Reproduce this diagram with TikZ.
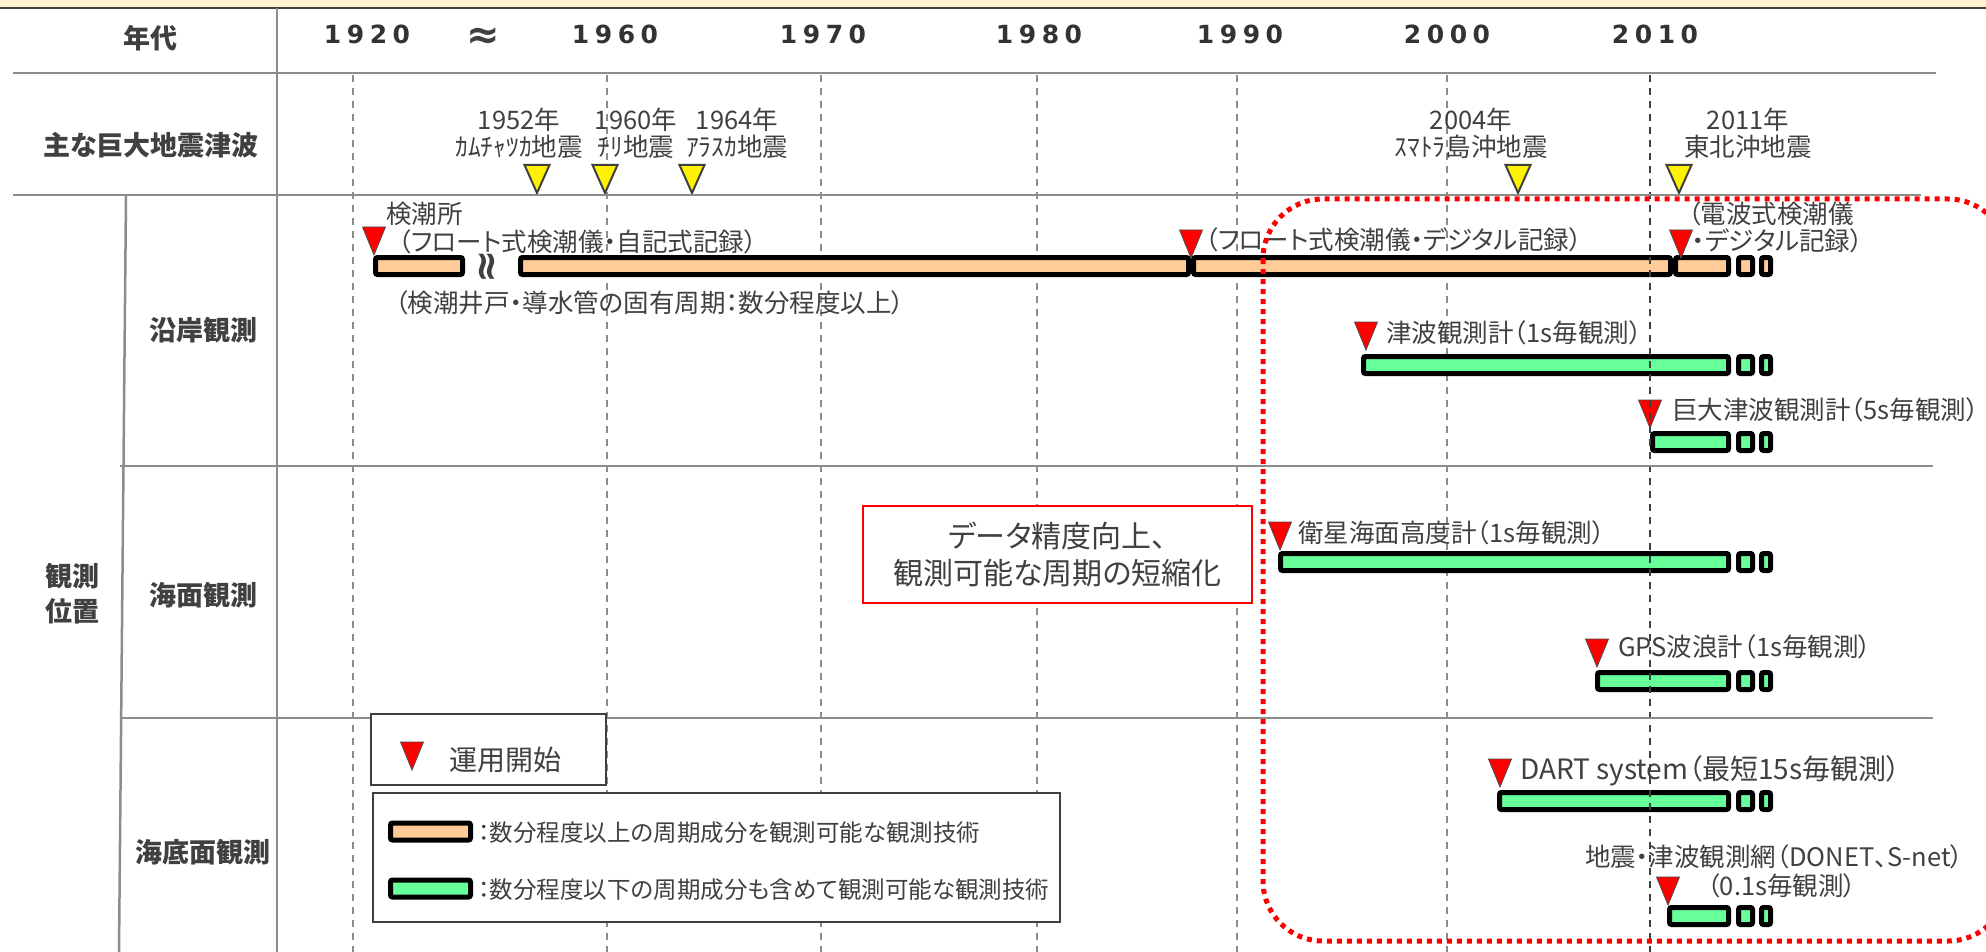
\documentclass[tikz,border=0pt]{standalone}
\usepackage{fontspec}
\setmainfont{Noto Sans CJK JP}[RawFeature=+palt]
\newfontfamily\yearfont{DejaVu Sans}[LetterSpace=22]
\newfontfamily\symfont{DejaVu Sans}

\definecolor{peach}{RGB}{255,204,153}
\definecolor{mint}{RGB}{102,255,153}
\definecolor{ink}{RGB}{64,64,64}
\definecolor{rule}{RGB}{140,140,140}
\definecolor{band}{RGB}{255,242,204}

\tikzset{
  rowline/.style={draw=rule, line width=2.5pt},
  yearline/.style={draw=rule, line width=1.5pt, dash pattern=on 7pt off 6pt},
  bar/.style={draw=black, line width=5pt, rounded corners=2pt},
  head/.style={font=\fontsize{27}{35}\selectfont\bfseries, text=ink},
  lbl/.style={font=\fontsize{25.5}{27}\selectfont, text=ink, inner sep=0pt},
  key/.style={font=\fontsize{23.5}{26}\selectfont, text=ink, inner sep=0pt, anchor=west},
  yr/.style={font=\yearfont\bfseries\fontsize{25}{27}\selectfont, text=black!80},
  startmark/.pic={\draw[fill=red, draw=black!70, line width=0.8pt] (-11.5,-28) -- (11.5,-28) -- (0,0) -- cycle;},
  quakemark/.pic={\draw[fill=yellow, draw=ink, line width=2pt] (-12.5,-28) -- (12.5,-28) -- (0,0) -- cycle;}
}

\begin{document}
\begin{tikzpicture}[x=1pt, y=-1pt]
\useasboundingbox (0,0) rectangle (1986,952);
\fill[band] (0,0) rectangle (1986,7);
\draw[ink, line width=2pt] (0,8) -- (1986,8);

\foreach \gx in {353,607,821,1037,1237,1447} \draw[yearline] (\gx,75) -- (\gx,952);

% bars, then the two small boxes at the end of each
\foreach \xa/\xb/\yc/\col in {373/465/266/peach, 518/1191/266/peach, 1191/1673/266/peach, 1673/1731/266/peach,
  1361/1731/365/mint, 1650/1731/442/mint, 1278/1731/562/mint, 1595/1731/681/mint, 1497/1731/801/mint, 1667/1731/916/mint}
  \draw[bar, fill=\col] (\xa+2.5,\yc-8.5) rectangle (\xb-2.5,\yc+8.5);
\foreach \yc/\col in {266/peach, 365/mint, 442/mint, 562/mint, 681/mint, 801/mint, 916/mint} {
  \draw[bar, fill=\col] (1738.5,\yc-8.5) rectangle (1752.5,\yc+8.5);
  \draw[bar, fill=\col] (1761.5,\yc-8.5) rectangle (1770.5,\yc+8.5);
}
\node[font=\symfont\bfseries\fontsize{40}{40}\selectfont, text=ink, rotate=90, inner sep=0pt] (brk) at (489,267) {≈};

\foreach \qx in {537,605,692,1518,1679} \pic at (\qx,193) {quakemark};
\foreach \sx/\sy in {374/255, 1191/258, 1681/258, 1366/350, 1650/428, 1280/550, 1597/667, 1500/787, 1668/905}
  \pic at (\sx,\sy) {startmark};

\node[lbl, align=center] (q1952) at (519,133.5) {1952年\\ｶﾑﾁｬﾂｶ地震};
\node[lbl, align=center] (q1960) at (636,133.5) {1960年\\ﾁﾘ地震};
\node[lbl, align=center] (q1964) at (737,133.5) {1964年\\ｱﾗｽｶ地震};
\node[lbl, align=center] (q2004) at (1471,133.5) {2004年\\ｽﾏﾄﾗ島沖地震};
\node[lbl, align=center] (q2011) at (1748,133.5) {2011年\\東北沖地震};

\node[lbl, anchor=west] (tide) at (386,214) {検潮所};
\node[lbl, anchor=west] (float1) at (398,242) {（フロート式検潮儀・自記式記録）};
\node[lbl, anchor=west] (well) at (395,303) {（検潮井戸・導水管の固有周期：数分程度以上）};
\node[lbl, anchor=west] (float2) at (1205,240) {（フロート式検潮儀・デジタル記録）};
\node[lbl, anchor=west] (radioA) at (1688,214) {（電波式検潮儀};
\node[lbl, anchor=west] (radioB) at (1692,241) {・デジタル記録）};
\node[lbl, anchor=west] (tsu) at (1386,333) {津波観測計（1s毎観測）};
\node[lbl, anchor=west] (giant) at (1672,410) {巨大津波観測計（5s毎観測）};
\node[lbl, anchor=west] (sat) at (1298,533) {衛星海面高度計（1s毎観測）};
\node[lbl, anchor=west] (gps) at (1618,647) {GPS波浪計（1s毎観測）};
\node[lbl, anchor=west, font=\fontsize{28}{30}\selectfont] (dart) at (1520,771) {DART system（最短15s毎観測）};
\node[lbl, anchor=west] (net) at (1585,857) {地震・津波観測網（DONET、S-net）};
\node[lbl, anchor=west] (netB) at (1707,886) {（0.1s毎観測）};

\draw[yearline, draw=ink] (1650,75) -- (1650,952);

\draw[rowline] (13,73) -- (1936,73);
\draw[rowline] (13,195) -- (1921,195);
\draw[rowline] (120,466) -- (1933,466);
\draw[rowline] (120,718) -- (1933,718);
\draw[rowline] (277,8) -- (277,952);
\draw[rowline] (126,195) -- (119,952);

\node[head] (era) at (150,38) {年代};
\node[yr] (y1920) at (367,34) {1920};
\node[font=\symfont\bfseries\fontsize{40}{40}\selectfont, text=ink] (gap) at (483,38) {≈};
\node[yr] (y1960) at (615,34) {1960};
\node[yr] (y1970) at (823,34) {1970};
\node[yr] (y1980) at (1039,34) {1980};
\node[yr] (y1990) at (1240,34) {1990};
\node[yr] (y2000) at (1447,34) {2000};
\node[yr] (y2010) at (1655,34) {2010};
\node[head] (quake) at (151,145) {主な巨大地震津波};
\node[head] (coast) at (203,330) {沿岸観測};
\node[head] (surf) at (203,595) {海面観測};
\node[head] (floor) at (203,852) {海底面観測};
\node[head, align=center] (place) at (72,594) {観測\\位置};

\node[draw=red, line width=1.5pt, fill=white, minimum width=389pt, minimum height=97pt, align=center,
  font=\fontsize{30}{37}\selectfont, text=ink] (note) at (1057.5,554.5) {データ精度向上、\\観測可能な周期の短縮化};

\draw[draw=ink, line width=2pt, fill=white] (371,714) rectangle (606,785);
\pic at (412,770) {startmark};
\node[font=\fontsize{28}{30}\selectfont, text=ink, anchor=west, inner sep=0pt] (start) at (449,760) {運用開始};
\draw[draw=ink, line width=2pt, fill=white] (373,793) rectangle (1060,922);
\draw[bar, fill=peach] (390.5,823) rectangle (470.5,840);
\node[key] (keyA) at (478,833) {：数分程度以上の周期成分を観測可能な観測技術};
\draw[bar, fill=mint] (390.5,880) rectangle (470.5,897);
\node[key] (keyB) at (478,890) {：数分程度以下の周期成分も含めて観測可能な観測技術};

\draw[red, line width=5pt, dash pattern=on 5pt off 5pt, rounded corners=60pt] (1263,199) rectangle (2008,941);
\end{tikzpicture}
\end{document}
